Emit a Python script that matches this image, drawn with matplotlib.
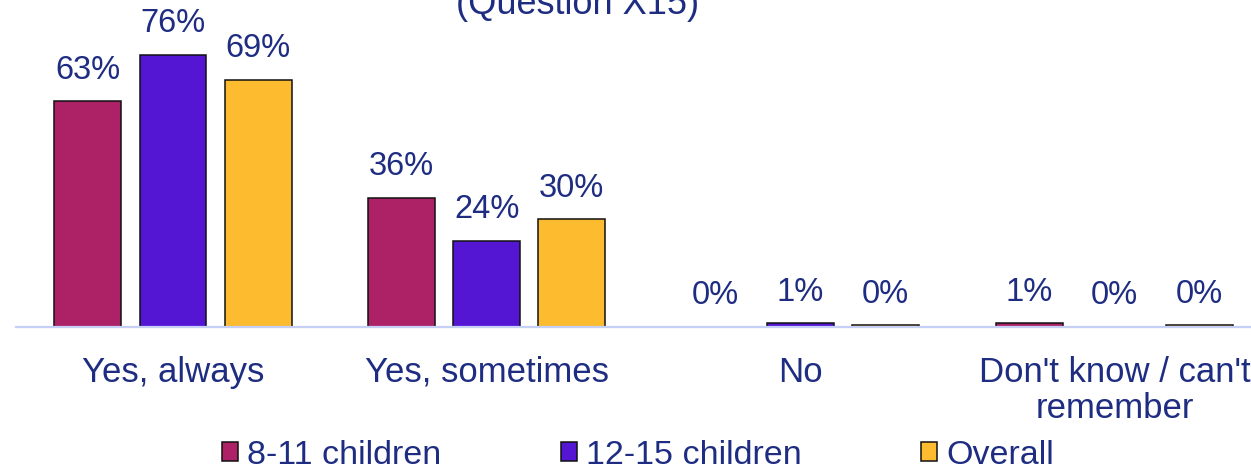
import numpy as np
import matplotlib
matplotlib.use("Agg")
import matplotlib.pyplot as plt

plt.rcParams['font.family'] = ['Liberation Sans', 'DejaVu Sans']

categories = ["Yes, always", "Yes, sometimes", "No", "Don't know / can't\nremember"]
series_names = ["8-11 children", "12-15 children", "Overall"]
kids_8_11 = [63, 36, 0, 1]
kids_12_15 = [76, 24, 1, 0]
overall = [69, 30, 0.4, 0.4]

colors = ['#AD2167', '#5516D4', '#FDBB30']
text_color = '#1E2D82'

W, H = 1251, 470
fig = plt.figure(figsize=(W / 100, H / 100), dpi=100)

left_px, base_px, step_px = 16.1, 326.5, 313.8
ax = fig.add_axes([left_px / W, (H - base_px) / H, 4 * step_px / W, 322 / H])

x = np.arange(len(categories))
width = 0.2135
offset = 0.271
for i, (name, vals) in enumerate(zip(series_names, [kids_8_11, kids_12_15, overall])):
    pos = x + (i - 1) * offset
    lw = [1.1 if v > 0 else 0 for v in vals]
    ax.bar(pos, vals, width, color=colors[i], edgecolor='#111111', linewidth=lw, label=name)
    for p, v in zip(pos, vals):
        ax.annotate(f"{round(v)}%", (p, v), xytext=(0, 11), textcoords='offset points',
                    ha='center', va='bottom', fontsize=23.5, color=text_color)

ax.set_xlim(-0.5, 3.5)
ax.set_ylim(0, 90)
ax.set_xticks(x)
ax.set_xticklabels(categories, fontsize=25, color=text_color, linespacing=1.12)
ax.tick_params(axis='x', length=0, pad=21)
ax.set_yticks([])
for s in ['top', 'left', 'right']:
    ax.spines[s].set_visible(False)
ax.spines['bottom'].set_color('#C6CFF5')
ax.spines['bottom'].set_linewidth(1.6)

fig.text(578 / W, (H - 14) / H, "(Question X15)", ha='center', va='baseline',
         fontsize=26, color=text_color)

leg = fig.legend(loc='center', bbox_to_anchor=(0.51, 0.031), ncol=3, frameon=False,
                 fontsize=24.5, handlelength=0.47, handleheight=0.47, handletextpad=0.27,
                 columnspacing=3.5, borderaxespad=0)
for t in leg.get_texts():
    t.set_color(text_color)
for h in leg.legend_handles:
    h.set_linewidth(1.1)
    h.set_edgecolor('#111111')

fig.savefig("out.png", dpi=100)
